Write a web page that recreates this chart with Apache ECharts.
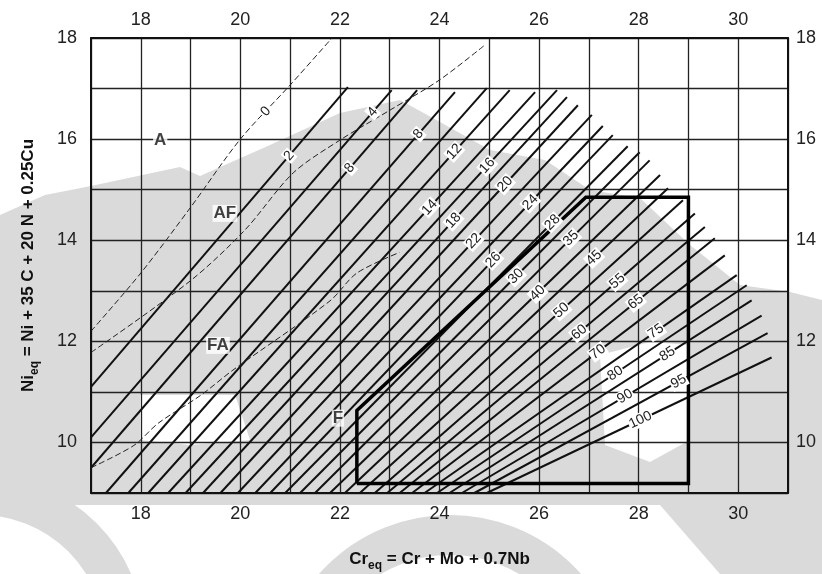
<!DOCTYPE html>
<html><head><meta charset="utf-8">
<script src="https://cdn.jsdelivr.net/npm/echarts@6/dist/echarts.min.js"></script>
<style>html,body{margin:0;padding:0;background:#fff}#c{width:822px;height:574px}</style>
</head><body><div id="c"></div>
<script>
// ---- axes ----
const xTickLabels = [18, 20, 22, 24, 26, 28, 30];
const yTickLabels = [10, 12, 14, 16, 18];

// ---- iso-ferrite-number lines (lower end, upper end) ----
const fnValues = [2,4,6,8,10,12,14,16,18,20,22,24,26,28,30,35,40,45,50,55,60,65,70,75,80,85,90,95,100];
const fnLowX  = [17,17,17,17.3,17.75,18.15,18.55,18.9,19.25,19.6,19.95,20.3,20.6,20.9,21.2,21.5,21.8,22.1,22.4,22.7,22.95,23.2,23.45,23.7,23.95,24.2,24.45,24.7,24.95];
const fnLowY  = [11.1,10.1,9.5,9,9,9,9,9,9,9,9,9,9,9,9,9,9,9,9,9,9,9,9,9,9,9,9,9,9];
const fnHighX = [22.16,23.04,23.55,24.31,24.95,25.41,25.92,26.36,26.56,26.78,27.06,27.28,27.48,27.78,28.02,28.22,28.43,28.59,28.89,29.13,29.33,29.53,29.73,29.97,30.17,30.27,30.47,30.59,30.67];
const fnHighY = [17.03,16.97,16.97,16.93,17.01,16.97,16.93,16.97,16.83,16.67,16.48,16.26,16.08,15.86,15.74,15.58,15.29,15.03,14.79,14.53,14.26,14.04,13.70,13.31,13.11,12.81,12.51,12.16,11.68];

// ---- line labels ----
const lblText = ['0','2','4','8','8','12','14','16','18','20','22','24','26','28','30','35','40','45','50','55','60','65','70','75','80','85','90','95','100'];
const lblX = [20.53,21.04,22.66,22.24,23.55,24.31,23.71,24.91,24.27,25.27,24.67,25.78,25.05,26.22,25.41,26.58,25.88,27.02,26.36,27.52,26.72,27.92,27.08,28.29,27.46,28.53,27.68,28.79,28.02];
const lblY = [16.53,15.62,16.53,15.39,16.12,15.74,14.73,15.52,14.40,15.15,14.00,14.79,13.64,14.40,13.41,14.10,13.05,13.74,12.71,13.25,12.28,12.81,11.92,12.28,11.47,11.82,10.99,11.23,10.48];
const lblLine = [-1,2,4,6,8,12,14,16,18,20,22,24,26,28,30,35,40,45,50,55,60,65,70,75,80,85,90,95,100];

// ---- dashed phase boundaries ----
const bAX = [17,18,19,20,21,21.84];
const bAY = [12.2,13.35,14.65,16.0,17.07,18.0];
const bBX = [17,19.0,20.09,21.06,22.0,23.0,24.0,24.91];
const bBY = [11.78,13.2,14.2,15.33,15.98,16.57,17.17,17.86];
const bCX = [17,17.86,18.35,19.2,19.85,21.8,22.34,23.2];
const bCY = [9.5,9.94,10.38,10.93,11.43,12.8,13.35,13.76];

// ---- thick composition box ----
const boxX = [22.34,22.34,26.94,29.0,29.0,22.34];
const boxY = [9.19,10.63,14.85,14.85,9.19,9.19];

// ---- region labels ----
const regText = ['A','AF','FA','F'];
const regX = [18.39,19.69,19.55,21.96];
const regY = [15.98,14.53,11.92,10.48];

const FONT = '"Liberation Sans", Arial, sans-serif';
const GREY = '#dadada';
const chart = echarts.init(document.getElementById('c'));
const zip = (xs, ys) => xs.map((x, i) => [x, ys[i]]);

const series = [];
fnValues.forEach((v, j) => {
  series.push({
    type: 'line', name: 'FN ' + v, data: [[fnLowX[j], fnLowY[j]], [fnHighX[j], fnHighY[j]]],
    symbol: 'none', silent: true, clip: true, z: 3,
    lineStyle: { color: '#111', width: 2 }
  });
});
[[bAX, bAY], [bBX, bBY], [bCX, bCY]].forEach(([xs, ys]) => {
  series.push({
    type: 'line', data: zip(xs, ys), symbol: 'none', smooth: 0.3, silent: true, z: 3,
    lineStyle: { color: '#222', width: 1, type: [6, 3] }
  });
});
series.push({
  type: 'line', data: zip(boxX, boxY), symbol: 'none', silent: true, z: 4,
  lineStyle: { color: '#000', width: 3.5, join: 'miter' }
});
series.push({
  type: 'custom', z: 6, silent: true,
  data: lblText.map((t, i) => [lblX[i], lblY[i], i]),
  renderItem: (params, api) => {
    const i = api.value(2);
    const p = api.coord([api.value(0), api.value(1)]);
    let a, b;
    const k = lblLine[i];
    if (k < 0) {
      let s = 0;
      for (let m = 0; m < bAX.length - 1; m++) if (lblX[i] >= bAX[m]) s = m;
      a = api.coord([bAX[s], bAY[s]]); b = api.coord([bAX[s + 1], bAY[s + 1]]);
    } else {
      const j = fnValues.indexOf(k);
      a = api.coord([fnLowX[j], fnLowY[j]]); b = api.coord([fnHighX[j], fnHighY[j]]);
    }
    const dx = b[0] - a[0], dy = b[1] - a[1];
    const t = ((p[0] - a[0]) * dx + (p[1] - a[1]) * dy) / (dx * dx + dy * dy);
    const q = [a[0] + t * dx, a[1] + t * dy];
    return {
      type: 'text', x: q[0], y: q[1], rotation: Math.atan2(-dy, dx),
      style: { text: lblText[i], x: 0, y: 0, align: 'center', verticalAlign: 'middle',
        fill: '#222', font: '14px ' + FONT, backgroundColor: '#fff', padding: [0, 1] }
    };
  }
});
series.push({
  type: 'scatter', z: 6, silent: true, symbolSize: 1, itemStyle: { color: 'transparent' },
  data: zip(regX, regY),
  label: { show: true, position: 'inside', formatter: p => regText[p.dataIndex],
    fontSize: 17, fontWeight: 'bold', color: '#111', fontFamily: FONT,
    backgroundColor: '#fff', padding: [0, 1] }
});

const axisLbl = (arr, margin) => ({
  formatter: v => arr.includes(v) ? String(v) : '',
  fontSize: 18, color: '#222', fontFamily: FONT, margin: margin, showMinLabel: true, showMaxLabel: true
});
const axLine = { show: true, onZero: false, lineStyle: { color: '#111', width: 2 } };
const split = { show: true, lineStyle: { color: '#222', width: 1.3 } };
const nameRich = {
  b: { fontSize: 17, fontWeight: 'bold', fontFamily: FONT, color: '#111', lineHeight: 24, verticalAlign: 'top' },
  s: { fontSize: 12, fontWeight: 'bold', fontFamily: FONT, color: '#111', lineHeight: 24, verticalAlign: 'top', padding: [9, 0, 0, 0] }
};

// faint background watermark (decoration only, pixel shapes)
const watermark = [
  { type: 'polygon', z: -10, silent: true, shape: { points: [[0,215],[45,195],[91,186],[180,167],[200,176],[270,145],[340,113],[400,100],[440,122],[490,150],[545,160],[590,190],[640,198],[690,245],[740,285],[790,292],[822,300],[822,574],[0,574]] }, style: { fill: GREY } },
  { type: 'polygon', z: -9, silent: true, shape: { points: [[600,355],[650,342],[690,345],[690,440],[650,462],[605,445]] }, style: { fill: '#fff' } },
  { type: 'polygon', z: -9, silent: true, shape: { points: [[140,395],[235,395],[250,440],[190,445],[140,440]] }, style: { fill: '#fff' } },
  { type: 'polygon', z: -9, silent: true, shape: { points: [[0,505],[822,505],[822,574],[0,574]] }, style: { fill: '#fff' } },
  { type: 'arc', z: -8, silent: true, shape: { cx: 450, cy: 690, r: 155, startAngle: Math.PI, endAngle: 2 * Math.PI }, style: { stroke: GREY, lineWidth: 40, fill: null } },
  { type: 'arc', z: -8, silent: true, shape: { cx: -20, cy: 640, r: 145, startAngle: 1.5 * Math.PI, endAngle: 2 * Math.PI }, style: { stroke: GREY, lineWidth: 40, fill: null } },
  { type: 'polygon', z: -8, silent: true, shape: { points: [[660,505],[822,505],[822,574],[720,574]] }, style: { fill: GREY } }
];

chart.setOption({
  animation: false,
  backgroundColor: '#fff',
  graphic: watermark,
  grid: { left: 91, right: 34, top: 38, bottom: 81, outerBoundsMode: 'none', containLabel: false },
  xAxis: [
    { type: 'value', min: 17, max: 31, interval: 1, position: 'bottom', axisLine: axLine,
      axisTick: { show: false }, axisLabel: axisLbl(xTickLabels, 12), splitLine: split,
      name: '{b|Cr}{s|eq}{b| = Cr + Mo + 0.7Nb}', nameLocation: 'middle', nameGap: 58,
      nameTextStyle: { rich: nameRich } },
    { type: 'value', min: 17, max: 31, interval: 1, position: 'top', axisLine: axLine,
      axisTick: { show: false }, axisLabel: axisLbl(xTickLabels, 9), splitLine: { show: false } }
  ],
  yAxis: [
    { type: 'value', min: 9, max: 18, interval: 1, position: 'left', axisLine: axLine,
      axisTick: { show: false }, axisLabel: axisLbl(yTickLabels, 14), splitLine: split,
      name: '{b|Ni}{s|eq}{b| = Ni + 35 C + 20 N + 0.25Cu}', nameLocation: 'middle', nameGap: 47, nameRotate: 90,
      nameTextStyle: { rich: nameRich } },
    { type: 'value', min: 9, max: 18, interval: 1, position: 'right', axisLine: axLine,
      axisTick: { show: false }, axisLabel: axisLbl(yTickLabels, 8), splitLine: { show: false } }
  ],
  series: series
});
</script></body></html>
